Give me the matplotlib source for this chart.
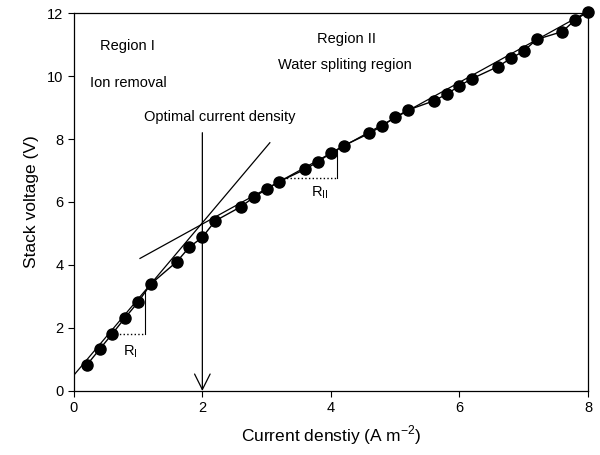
import numpy as np
import matplotlib
matplotlib.use("Agg")
import matplotlib.pyplot as plt

plt.rcParams['font.family'] = ['Liberation Sans', 'DejaVu Sans']

# measured points
current = [0.2, 0.4, 0.6, 0.8, 1.0, 1.2, 1.6, 1.8, 2.0, 2.2, 2.6, 2.8, 3.0, 3.2,
           3.6, 3.8, 4.0, 4.2, 4.6, 4.8, 5.0, 5.2, 5.6, 5.8, 6.0, 6.2, 6.6, 6.8,
           7.0, 7.2, 7.6, 7.8, 8.0]
voltage = [0.82, 1.32, 1.82, 2.33, 2.82, 3.40, 4.10, 4.57, 4.88, 5.40, 5.85, 6.15,
           6.41, 6.65, 7.04, 7.28, 7.55, 7.79, 8.18, 8.42, 8.69, 8.92, 9.21, 9.42,
           9.69, 9.92, 10.30, 10.56, 10.79, 11.16, 11.41, 11.78, 12.04]

# linear fits (intercept, slope) and x-range
fit1 = (0.50, 2.42)
fit1_x = [0.0, 3.05]
fit2 = (3.05, 1.125)
fit2_x = [1.03, 8.0]

optimal_x = 2.0
arrow_top = 8.2

fig = plt.figure(figsize=(6, 4.55), dpi=100)
ax = fig.add_axes([0.123, 0.1407, 0.857, 0.8307])

fx1 = np.array(fit1_x)
ax.plot(fx1, fit1[0] + fit1[1] * fx1, color="black", linewidth=0.9)
fx2 = np.array(fit2_x)
ax.plot(fx2, fit2[0] + fit2[1] * fx2, color="black", linewidth=0.9)

ax.plot(current, voltage, color="black", linewidth=1.0, marker="o",
        markersize=8, clip_on=False, zorder=3)

# slope triangles
x_a, x_b = 0.6, 1.1
y_a = 1.82
ax.plot([x_a, x_b], [y_a, y_a], color="black", linestyle=":", linewidth=1.0)
ax.plot([x_b, x_b], [y_a, fit1[0] + fit1[1] * x_b], color="black", linewidth=0.8)
ax.text(0.88, 1.25, r"R$_\mathregular{I}$", fontsize=10.5, ha="center", va="center")

x_c, x_d = 3.2, 4.09
y_c = 6.75
ax.plot([x_c, x_d], [y_c, y_c], color="black", linestyle=":", linewidth=1.0)
ax.plot([x_d, x_d], [y_c, fit2[0] + fit2[1] * x_d], color="black", linewidth=0.8)
ax.text(3.82, 6.29, r"R$_\mathregular{II}$", fontsize=10.5, ha="center", va="center")

# optimal current density arrow
ax.annotate("", xy=(optimal_x, 0), xytext=(optimal_x, arrow_top),
            arrowprops=dict(arrowstyle="->", color="black", lw=0.9,
                            mutation_scale=28, shrinkA=0, shrinkB=0))

ax.text(0.84, 10.95, "Region I", fontsize=10.5, ha="center", va="center")
ax.text(0.85, 9.79, "Ion removal", fontsize=10.5, ha="center", va="center")
ax.text(2.27, 8.71, "Optimal current density", fontsize=10.5, ha="center", va="center")
ax.text(4.24, 11.16, "Region II", fontsize=10.5, ha="center", va="center")
ax.text(4.22, 10.35, "Water spliting region", fontsize=10.5, ha="center", va="center")

ax.set_xlim(0, 8)
ax.set_ylim(0, 12)
ax.set_xticks([0, 2, 4, 6, 8])
ax.set_yticks([0, 2, 4, 6, 8, 10, 12])
ax.tick_params(direction="out", length=4, width=0.8, labelsize=10.5, colors="black")
for s in ax.spines.values():
    s.set_linewidth(0.9)

ax.set_xlabel(r"Current denstiy (A m$^\mathregular{-2}$)", fontsize=12.5, labelpad=6)
ax.set_ylabel("Stack voltage (V)", fontsize=12.5, labelpad=6)

plt.savefig("out.png", dpi=100)
